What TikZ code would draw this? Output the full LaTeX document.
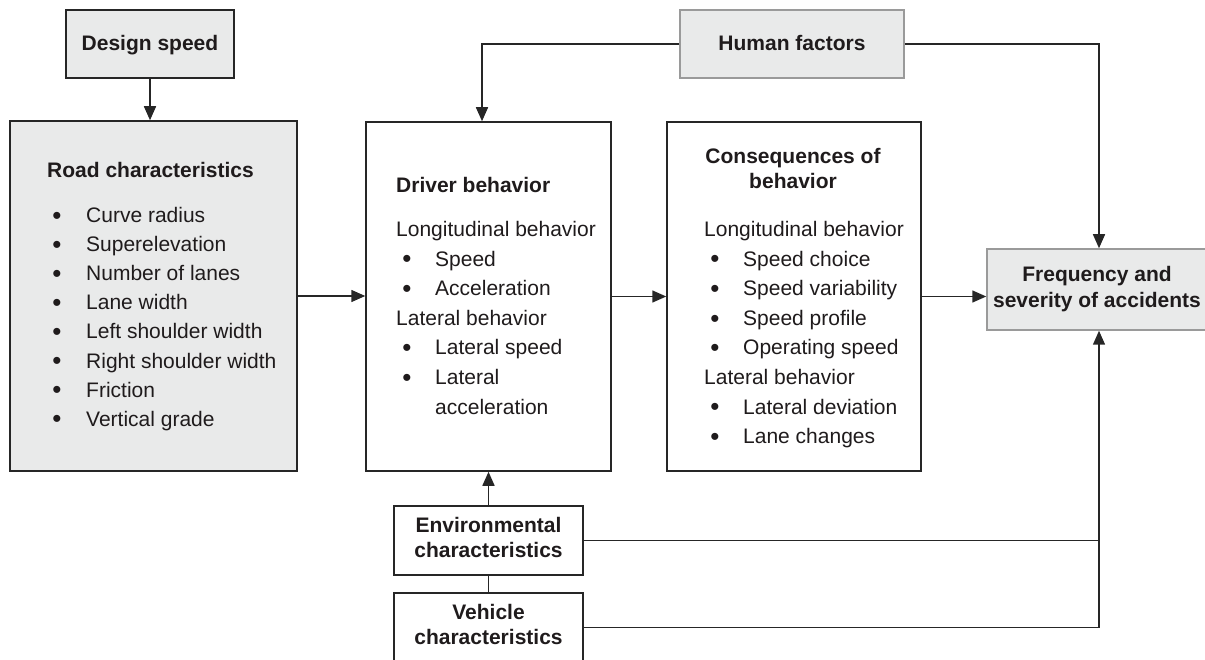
\documentclass[tikz,border=0pt]{standalone}
\usepackage{fontspec}
\setmainfont{Liberation Sans}
\usetikzlibrary{arrows.meta}
\definecolor{linec}{HTML}{262626}
\definecolor{txtc}{HTML}{1F1B1C}
\definecolor{boxfill}{HTML}{E9EAEA}
\definecolor{lightbd}{HTML}{9A9A9A}
\tikzset{
  ln/.style={line width=1.5pt, draw=linec},
  arr/.style={ln, -{Triangle[length=14pt,width=12pt]}},
  box/.style={rectangle, draw=linec, line width=1.5pt, inner sep=0pt, fill=white},
  gbox/.style={box, fill=boxfill},
  txt/.style={anchor=base west, inner sep=0pt, text=txtc, font=\fontsize{21}{29}\selectfont},
  ttl/.style={anchor=base west, inner sep=0pt, text=txtc, font=\bfseries\fontsize{21}{25}\selectfont},
  cttl/.style={anchor=base, inner sep=0pt, text=txtc, font=\bfseries\fontsize{21}{25}\selectfont},
  bul/.style={anchor=base, inner sep=0pt, text=txtc, font=\fontsize{26}{29}\selectfont, yshift=-1.5pt}
}
\begin{document}
\begin{tikzpicture}[x=1pt,y=-1pt]
\useasboundingbox (0,0) rectangle (1205,660);
\clip (0,0) rectangle (1205,660);

% boxes
\node[gbox, minimum width=168pt, minimum height=68pt] (ds) at (150,44) {};
\node[gbox, minimum width=287pt, minimum height=350pt] (road) at (153.5,296) {};
\node[gbox, draw=lightbd, minimum width=224pt, minimum height=68pt] (hf) at (792,44) {};
\node[box, minimum width=245pt, minimum height=349pt] (drv) at (488.5,296.5) {};
\node[box, minimum width=254pt, minimum height=349pt] (cons) at (794,296.5) {};
\node[gbox, draw=lightbd, minimum width=224pt, minimum height=81pt] (freq) at (1099,289.5) {};
\node[box, minimum width=189pt, minimum height=69pt] (env) at (488.5,540.5) {};
\node[box, minimum width=189pt, minimum height=69pt] (veh) at (488.5,627.5) {};

% design speed / human factors
\node[cttl] (dst) at (150,51) {Design speed};
\node[cttl] (hft) at (792,51) {Human factors};

% road characteristics
\node[ttl] (roadt) at (47,178) {Road characteristics};
\node[bul] (rb1) at (57,223) {\textbullet}; \node[txt] (r1) at (86,223) {Curve radius};
\node[bul] (rb2) at (57,252) {\textbullet}; \node[txt] (r2) at (86,252) {Superelevation};
\node[bul] (rb3) at (57,281) {\textbullet}; \node[txt] (r3) at (86,281) {Number of lanes};
\node[bul] (rb4) at (57,310) {\textbullet}; \node[txt] (r4) at (86,310) {Lane width};
\node[bul] (rb5) at (57,339) {\textbullet}; \node[txt] (r5) at (86,339) {Left shoulder width};
\node[bul] (rb6) at (57,368) {\textbullet}; \node[txt] (r6) at (86,368) {Right shoulder width};
\node[bul] (rb7) at (57,397) {\textbullet}; \node[txt] (r7) at (86,397) {Friction};
\node[bul] (rb8) at (57,426) {\textbullet}; \node[txt] (r8) at (86,426) {Vertical grade};

% driver behavior
\node[ttl] (drvt) at (396,193) {Driver behavior};
\node[txt] (d0) at (396,237) {Longitudinal behavior};
\node[bul] (db1) at (407,266.5) {\textbullet}; \node[txt] (d1) at (435,266.5) {Speed};
\node[bul] (db2) at (407,296) {\textbullet}; \node[txt] (d2) at (435,296) {Acceleration};
\node[txt] (d3) at (396,325.5) {Lateral behavior};
\node[bul] (db4) at (407,355) {\textbullet}; \node[txt] (d4) at (435,355) {Lateral speed};
\node[bul] (db5) at (407,384.5) {\textbullet}; \node[txt] (d5) at (435,384.5) {Lateral};
\node[txt] (d6) at (435,414) {acceleration};

% consequences
\node[cttl] (ct1) at (793,164) {Consequences of};
\node[cttl] (ct2) at (793,189) {behavior};
\node[txt] (c0) at (704,237) {Longitudinal behavior};
\node[bul] (cb1) at (715,266.5) {\textbullet}; \node[txt] (c1) at (743,266.5) {Speed choice};
\node[bul] (cb2) at (715,296) {\textbullet}; \node[txt] (c2) at (743,296) {Speed variability};
\node[bul] (cb3) at (715,325.5) {\textbullet}; \node[txt] (c3) at (743,325.5) {Speed profile};
\node[bul] (cb4) at (715,355) {\textbullet}; \node[txt] (c4) at (743,355) {Operating speed};
\node[txt] (c5) at (704,384.5) {Lateral behavior};
\node[bul] (cb6) at (715,414) {\textbullet}; \node[txt] (c6) at (743,414) {Lateral deviation};
\node[bul] (cb7) at (715,443.5) {\textbullet}; \node[txt] (c7) at (743,443.5) {Lane changes};

% frequency
\node[cttl] (ft1) at (1097,282) {Frequency and};
\node[cttl] (ft2) at (1097,308) {severity of accidents};

% environment / vehicle
\node[cttl] (et1) at (488.5,532) {Environmental};
\node[cttl] (et2) at (488.5,557) {characteristics};
\node[cttl] (vt1) at (488.5,619) {Vehicle};
\node[cttl] (vt2) at (488.5,644) {characteristics};

% connectors
\draw[arr] (ds.south) -- (ds.south |- road.north);
\draw[arr] (road.east) -- (road.east -| drv.west);
\draw[arr] (drv.east) -- (drv.east -| cons.west);
\draw[arr] (cons.east) -- (cons.east -| freq.west);
\draw[arr] (hf.west) -| ([xshift=-6.5pt]drv.north);
\draw[arr] (hf.east) -| (freq.north);
\draw[arr] (env.north) -- (env.north |- drv.south);
\draw[ln] (env.south) -- (veh.north);
\draw[ln] (env.east) -- (env.east -| freq.south);
\draw[arr] (veh.east) -| (freq.south);
\end{tikzpicture}
\end{document}
